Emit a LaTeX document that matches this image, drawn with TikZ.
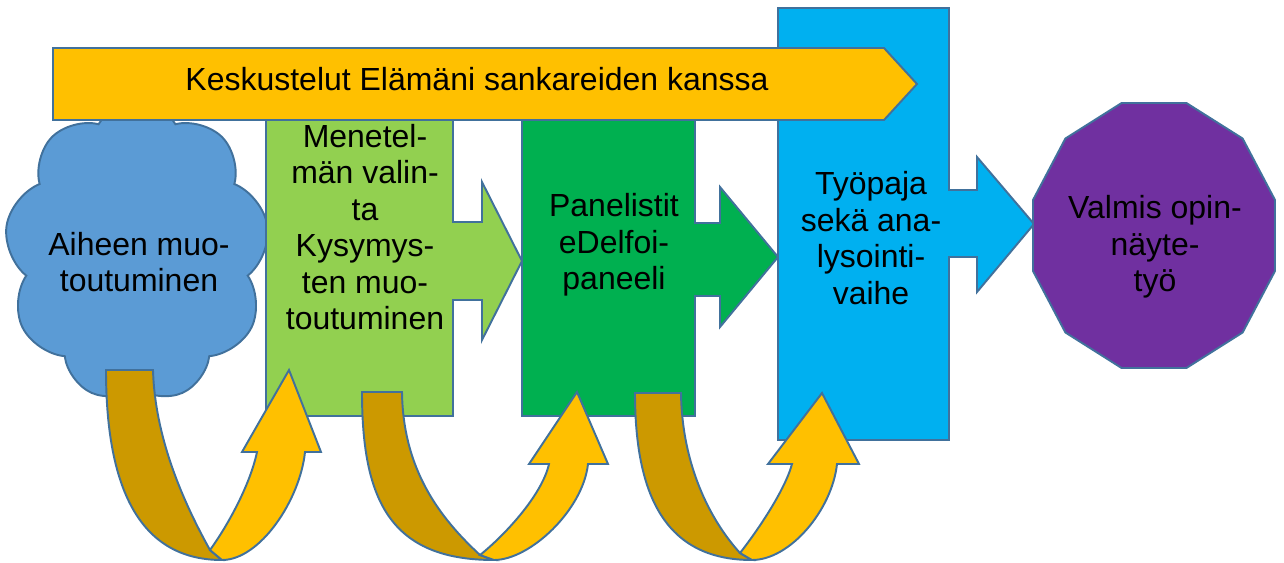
\documentclass[tikz,border=0pt]{standalone}
\usepackage{fontspec}
\setmainfont{Liberation Sans}
\usetikzlibrary{shapes.symbols}
\definecolor{outl}{HTML}{41719C}
\definecolor{gold}{HTML}{FFC000}
\definecolor{darkgold}{HTML}{CC9900}
\definecolor{cloudblue}{HTML}{5B9BD5}
\definecolor{lgreen}{HTML}{92D050}
\definecolor{dgreen}{HTML}{00B050}
\definecolor{skyblue}{HTML}{00B0F0}
\definecolor{purp}{HTML}{7030A0}
\begin{document}
\begin{tikzpicture}[x=0.02cm,y=-0.02cm,
  shp/.style={draw=outl,line width=1.1pt,line join=miter},
  lbl/.style={font=\fontsize{18.2}{20.8}\selectfont,align=center,text=black,inner sep=0pt}]
\useasboundingbox (0,0) rectangle (1284,562);

% cloud
\node[cloud, cloud puffs=9, cloud puff arc=120, cloud ignores aspect,
      minimum width=5.3cm, minimum height=6cm, inner sep=0pt, shp, fill=cloudblue] (cloud) at (137,252) {};

% process boxes with arrow callouts
\filldraw[shp, fill=lgreen] (266,100) -- (453,100) -- (453,222) -- (482,222) -- (482,182) -- (522,261)
  -- (482,340) -- (482,300) -- (453,300) -- (453,416) -- (266,416) -- cycle;
\filldraw[shp, fill=dgreen] (522,100) -- (695,100) -- (695,223) -- (720,223) -- (720,187) -- (778,257)
  -- (720,327) -- (720,296) -- (695,296) -- (695,416) -- (522,416) -- cycle;
\filldraw[shp, fill=skyblue] (778,8) -- (949,8) -- (949,190) -- (977,190) -- (977,157) -- (1034,224)
  -- (977,292) -- (977,257) -- (949,257) -- (949,440) -- (778,440) -- cycle;

% dodecagon
\filldraw[shp, fill=purp] (1275,200) -- (1242.6,138.5) -- (1186.4,103) -- (1121.6,103) -- (1065.4,138.5)
  -- (1033,200) -- (1033,271) -- (1065.4,332.5) -- (1121.6,368) -- (1186.4,368) -- (1242.6,332.5)
  -- (1275,271) -- cycle;

% banner
\filldraw[shp, fill=gold] (53,48) -- (884,48) -- (917,84) -- (884,120) -- (53,120) -- cycle;

% U-turn arrow 1
\filldraw[shp, fill=darkgold] (106,370) -- (153,370)
  .. controls (155,440) and (185,505) .. (210,550) -- (222,560)
  .. controls (135,560) and (106,480) .. (106,370) -- cycle;
\filldraw[shp, fill=gold] (289,370) -- (321,452) -- (305,452)
  .. controls (300,500) and (260,560) .. (222,560) -- (210,550)
  .. controls (228,525) and (250,485) .. (257,452) -- (242,452) -- cycle;

% U-turn arrow 2
\filldraw[shp, fill=darkgold] (362,392) -- (402,392)
  .. controls (403,470) and (440,518) .. (480,555) -- (494,560)
  .. controls (390,560) and (362,500) .. (362,392) -- cycle;
\filldraw[shp, fill=gold] (577,392) -- (608,464) -- (588,464)
  .. controls (583,510) and (530,560) .. (494,560) -- (480,555)
  .. controls (505,535) and (542,495) .. (549,464) -- (529,464) -- cycle;

% U-turn arrow 3
\filldraw[shp, fill=darkgold] (635,393) -- (681,393)
  .. controls (682,465) and (710,520) .. (740,553) -- (752,560)
  .. controls (665,560) and (635,495) .. (635,393) -- cycle;
\filldraw[shp, fill=gold] (822,393) -- (859,464) -- (837,464)
  .. controls (832,510) and (790,560) .. (752,560) -- (740,553)
  .. controls (758,530) and (785,490) .. (792,464) -- (768,464) -- cycle;

% labels
\node[lbl, anchor=base] (tbanner) at (477,90) {Keskustelut Elämäni sankareiden kanssa};
\node[lbl] (tcloud) at (139,262) {Aiheen muo-\\toutuminen};
\node[lbl] (tmen) at (365,227) {Menetel-\\män valin-\\ta\\Kysymys-\\ten muo-\\toutuminen};
\node[lbl] (tpan) at (614,245) {Panelistit\\eDelfoi-\\paneeli};
\node[lbl] (ttyo) at (871,238) {Työpaja\\sekä ana-\\lysointi-\\vaihe};
\node[lbl] (tval) at (1155,247) {Valmis opin-\\näyte-\\työ};
\end{tikzpicture}
\end{document}
